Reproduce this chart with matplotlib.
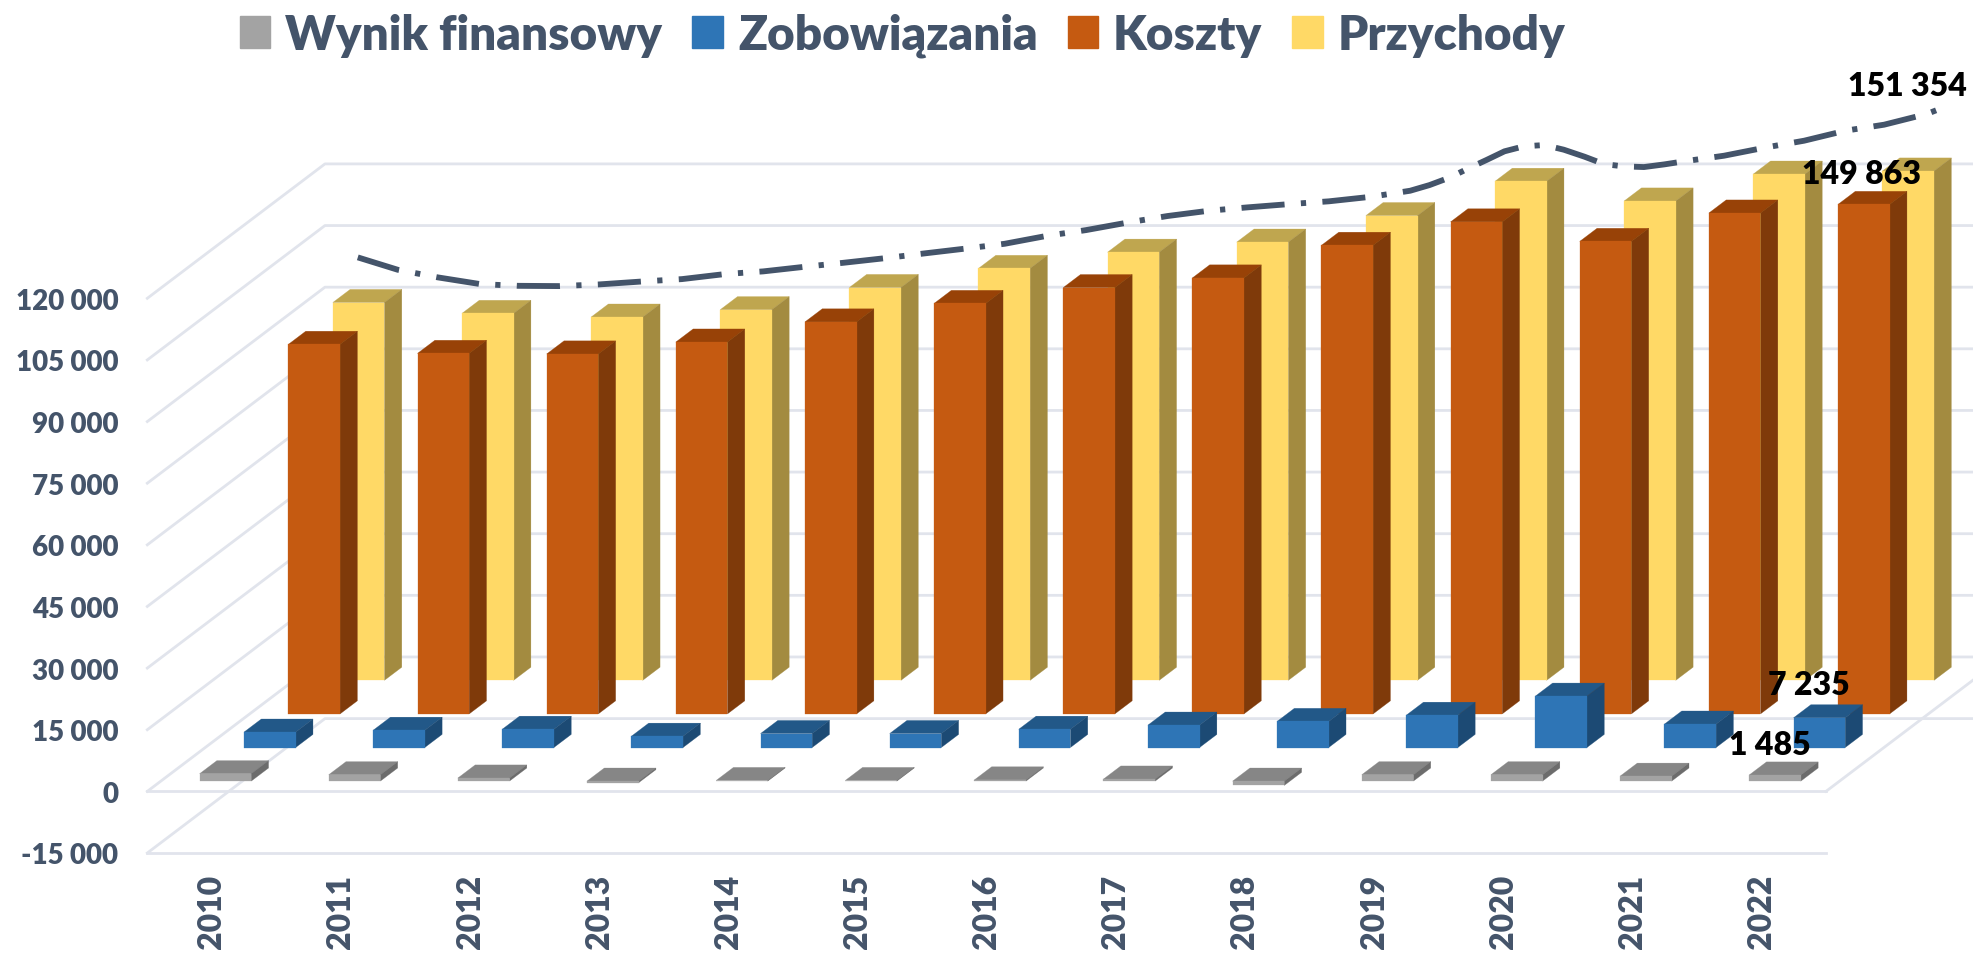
# -*- coding: utf8 -*-
import matplotlib
matplotlib.use("Agg")
import matplotlib.pyplot as plt
from matplotlib.patches import Patch

plt.rcParams['font.family'] = ['Lato', 'DejaVu Sans']
plt.rcParams['font.weight'] = 'heavy'

W, H = 1974, 954

years = list(range(2010, 2023))
y_ticks = list(range(-15000, 120001, 15000))
y_labels = [f'{v:,}'.replace(',', ' ') for v in y_ticks]

przychody = [91950, 89300, 88400, 90200, 95600, 100250, 104200, 106650, 113100, 121450, 116650, 123200, 123950]
koszty = [89950, 87750, 87600, 90500, 95400, 99900, 103750, 106100, 114050, 119750, 115000, 121900, 124000]
zobowiazania = [3750, 4200, 4450, 2750, 3400, 3400, 4450, 5450, 6350, 7850, 12500, 5700, 7235]
wynik = [1800, 1550, 750, -400, 150, 150, 300, 500, -1050, 1550, 1550, 1200, 1485]

# linia trendu: polozenie na osi kategorii i wartosc
trend_x = [1.63, 1.94, 2.25, 2.58, 2.87, 3.19, 3.50, 3.84, 4.14, 4.47, 4.77, 5.09, 5.39, 5.72,
           6.02, 6.35, 6.64, 6.97, 7.27, 7.60, 7.90, 8.22, 8.52, 8.85, 9.15, 9.48, 9.78, 9.93, 10.09,
           10.22, 10.37, 10.51, 10.66, 10.82, 10.97, 11.13, 11.28, 11.43, 11.59, 11.75, 11.90, 12.21,
           12.54, 12.83, 13.15, 13.45, 13.78, 13.88]
trend_y = [129960, 126940, 125090, 123450, 123040, 122970, 123380, 124110, 124670, 125890,
           126550, 127670, 128640, 129790, 130930, 132150, 133270, 135220, 136600, 138480,
           140020, 141310, 142130, 142940, 143600, 144720, 146180, 147560, 149440,
           151460, 153650, 155770, 156990, 157300, 156160, 154460, 152670, 152110, 151940, 152600,
           153330, 154700, 156750, 158350, 160790, 162250, 164860, 166080]

TEXT = '#44546A'
GRID = '#E1E4EC'

# rzedy od przodu: kolor frontu, gory i boku
rows = [
    ('Wynik finansowy', wynik, '#A3A3A3', '#868686', '#6C6C6C'),
    ('Zobowiązania', zobowiazania, '#2E75B6', '#225888', '#1C4A74'),
    ('Koszty', koszty, '#C55A11', '#984207', '#7F3A0A'),
    ('Przychody', przychody, '#FFD966', '#BFA64F', '#A38B40'),
]

DX = 44.4 / 129.1  # przesuniecie jednego rzedu w glab, jednostki osi x
DY = 8177          # to samo dla osi y
BAR_W = 0.4
BAR_D = 0.39

fig = plt.figure(figsize=(W / 100, H / 100), dpi=100)
ax = fig.add_axes([147.3 / W, 1 - 854 / H, (1826 - 147.3) / W, (854 - 299.3) / H])
ax.set_xlim(0, 13)
ax.set_ylim(-15000, 120000)
ax.patch.set_visible(False)
for s in ax.spines.values():
    s.set_visible(False)


def proj(c, d, v):
    return c + d * DX, v + d * DY


def face(points, color, z):
    ax.fill([p[0] for p in points], [p[1] for p in points], color=color, lw=0.2, clip_on=False, zorder=z)


def bar(c, row, v, front, top, side, z):
    x0 = c + (1 - BAR_W) / 2
    x1 = x0 + BAR_W
    d0 = row + (1 - BAR_D) / 2
    d1 = d0 + BAR_D
    lo, hi = min(0, v), max(0, v)
    face([proj(x0, d0, hi), proj(x0, d1, hi), proj(x1, d1, hi), proj(x1, d0, hi)], top, z)
    face([proj(x1, d0, lo), proj(x1, d1, lo), proj(x1, d1, hi), proj(x1, d0, hi)], side, z)
    face([proj(x0, d0, lo), proj(x1, d0, lo), proj(x1, d0, hi), proj(x0, d0, hi)], front, z)


# siatka: sciana boczna, tylna i podloga
for v in y_ticks:
    pts = [proj(0, 0, v), proj(0, 4, v), proj(13, 4, v)]
    ax.plot([p[0] for p in pts], [p[1] for p in pts], color=GRID, lw=2, clip_on=False, zorder=1)
for v in (-15000, 0):
    ax.plot([0, 13], [v, v], color=GRID, lw=2, clip_on=False, zorder=1)
pts = [proj(13, 0, 0), proj(13, 4, 0)]
ax.plot([p[0] for p in pts], [p[1] for p in pts], color=GRID, lw=2, clip_on=False, zorder=1)

for row in (3, 2, 1, 0):
    name, values, front, top, side = rows[row]
    for c, v in enumerate(values):
        bar(c, row, v, front, top, side, 5 + (3 - row))

ax.plot(trend_x, trend_y, color=TEXT, lw=4.2, ls=(0, (7.4, 2.8, 0.9, 2.8)), clip_on=False, zorder=10)

ax.set_xticks([c + 0.5 for c in range(len(years))])
ax.set_xticklabels(years, rotation=90, fontsize=23, color=TEXT)
ax.set_yticks(y_ticks)
ax.set_yticklabels(y_labels, fontsize=20, color=TEXT)
ax.tick_params(axis='x', length=0, pad=15)
ax.tick_params(axis='y', length=0, pad=21)

handles = [Patch(color=r[2], label=r[0]) for r in rows]
fig.legend(handles=handles, loc='center left', bbox_to_anchor=(240 / W, 1 - 36 / H), ncol=4, frameon=False,
           prop={'size': 34.4, 'weight': 'heavy'}, labelcolor=TEXT, handlelength=0.63, handleheight=0.63,
           handletextpad=0.32, columnspacing=0.63, borderpad=0, borderaxespad=0)

for txt, x, y in [('151 354', 1907, 87), ('149 863', 1861, 175), ('7 235', 1809, 686), ('1 485', 1770, 746)]:
    fig.text(x / W, 1 - y / H, txt, ha='center', va='center', fontsize=23, color='black', zorder=20)

fig.savefig('out.png', dpi=100)
